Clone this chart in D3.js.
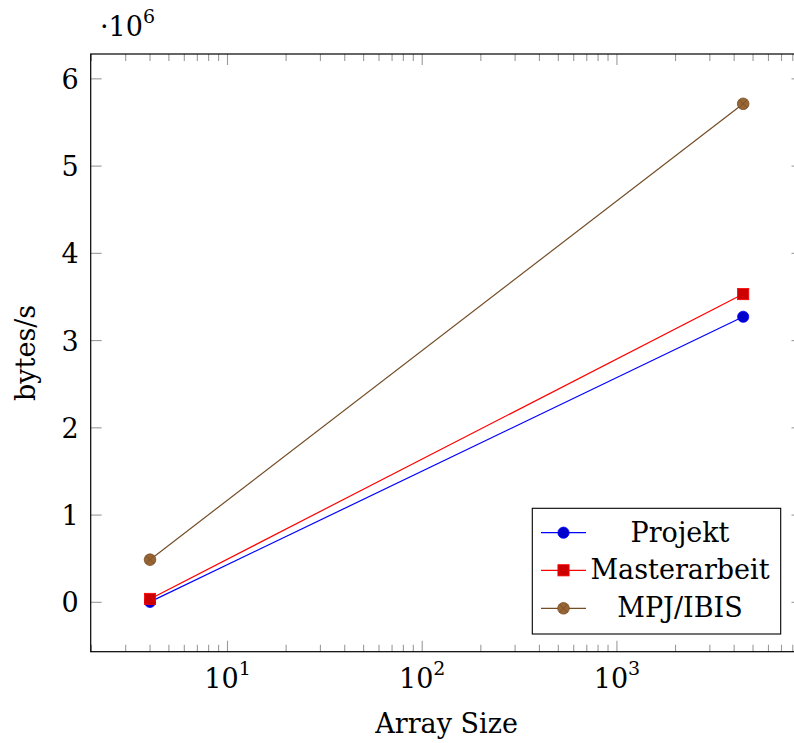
<!DOCTYPE html>
<html>
<head>
<meta charset="utf-8">
<script src="https://cdn.jsdelivr.net/npm/d3@7"></script>
<style>
  html, body { margin: 0; padding: 0; background: #fff; }
  svg { display: block; overflow: hidden; }
</style>
</head>
<body>
<svg id="chart" width="794" height="743"></svg>
<script>
// ---- data ----
const arraySizes = [4, 4450];
const seriesNames = ["Projekt", "Masterarbeit", "MPJ/IBIS"];
const projekt = [0.005e6, 3.273e6];
const masterarbeit = [0.039e6, 3.533e6];
const mpjIbis = [0.489e6, 5.714e6];
const yTicks = [0, 1, 2, 3, 4, 5, 6];
const xMajorTicks = [10, 100, 1000];
const xLabel = "Array Size";
const yLabel = "bytes/s";

// ---- layout ----
const W = 794, H = 743;
const plot = { left: 90.7, top: 54, right: 802.5, bottom: 651.7 };
const colors = ["#0000ff", "#ff0000", "#734d26"];
const fills = ["#0000cc", "#cc0000", "#996633"];
const FONT = 27;
const SUP = 19;
const FAMILY = "'DejaVu Serif', 'Liberation Serif', serif";

const svg = d3.select("#chart").attr("font-family", FAMILY);

// scales with 10% enlargement like pgfplots
const lx = arraySizes.map(Math.log10);
const lmin = d3.min(lx), lmax = d3.max(lx), lr = lmax - lmin;
const x = d3.scaleLog()
  .domain([Math.pow(10, lmin - 0.1 * lr), Math.pow(10, lmax + 0.1 * lr)])
  .range([plot.left, plot.right]);

const allY = projekt.concat(masterarbeit, mpjIbis);
const ymin = d3.min(allY), ymax = d3.max(allY), yr = ymax - ymin;
const y = d3.scaleLinear()
  .domain([ymin - 0.1 * yr, ymax + 0.1 * yr])
  .range([plot.bottom, plot.top]);

const series = [projekt, masterarbeit, mpjIbis].map((vals, i) => ({
  name: seriesNames[i],
  points: vals.map((v, j) => ({ x: arraySizes[j], y: v })),
  color: colors[i], fill: fills[i], mark: ["circle", "square", "otimes"][i]
}));

// ---- ticks ----
const tickG = svg.append("g").attr("stroke", "#9a9a9a").attr("stroke-width", 1.1);
const [d0, d1] = x.domain();
const minorTicks = [];
for (let e = Math.floor(Math.log10(d0)); e <= Math.ceil(Math.log10(d1)); e++) {
  for (let m = 2; m <= 9; m++) {
    const v = m * Math.pow(10, e);
    if (v > d0 && v < d1) minorTicks.push(v);
  }
}
minorTicks.forEach(v => {
  const px = x(v);
  tickG.append("line").attr("x1", px).attr("x2", px).attr("y1", plot.bottom).attr("y2", plot.bottom - 7);
  tickG.append("line").attr("x1", px).attr("x2", px).attr("y1", plot.top).attr("y2", plot.top + 7);
});
xMajorTicks.forEach(v => {
  const px = x(v);
  tickG.append("line").attr("x1", px).attr("x2", px).attr("y1", plot.bottom).attr("y2", plot.bottom - 11);
  tickG.append("line").attr("x1", px).attr("x2", px).attr("y1", plot.top).attr("y2", plot.top + 11);
});
yTicks.forEach(t => {
  const py = y(t * 1e6);
  tickG.append("line").attr("x1", plot.left).attr("x2", plot.left + 11).attr("y1", py).attr("y2", py);
  tickG.append("line").attr("x1", plot.right).attr("x2", plot.right - 11).attr("y1", py).attr("y2", py);
});

// ---- frame ----
svg.append("rect")
  .attr("x", plot.left).attr("y", plot.top)
  .attr("width", plot.right - plot.left).attr("height", plot.bottom - plot.top)
  .attr("fill", "none").attr("stroke", "#000").attr("stroke-width", 1.2);

// ---- tick labels ----
yTicks.forEach(t => {
  svg.append("text")
    .attr("x", plot.left - 12).attr("y", y(t * 1e6) + 10)
    .attr("text-anchor", "end").attr("font-size", FONT)
    .text(String(t));
});
xMajorTicks.forEach(v => {
  const t = svg.append("text")
    .attr("x", x(v)).attr("y", 688)
    .attr("text-anchor", "middle").attr("font-size", FONT);
  t.append("tspan").text("10");
  t.append("tspan").attr("dy", -13).attr("font-size", SUP).text(String(Math.round(Math.log10(v))));
});

// scale multiplier
const mult = svg.append("text").attr("x", 100).attr("y", 36).attr("font-size", FONT);
mult.append("tspan").text("·10");
mult.append("tspan").attr("dy", -13).attr("font-size", SUP).text("6");

// axis labels
svg.append("text")
  .attr("x", (plot.left + plot.right) / 2).attr("y", 732.5)
  .attr("text-anchor", "middle").attr("font-size", FONT).text(xLabel);
svg.append("text")
  .attr("transform", `translate(35,${(plot.top + plot.bottom) / 2}) rotate(-90)`)
  .attr("text-anchor", "middle").attr("font-size", FONT).text(yLabel);

// ---- marks ----
function drawMark(g, cx, cy, s) {
  if (s.mark === "circle") {
    g.append("circle").attr("cx", cx).attr("cy", cy).attr("r", 5.6)
      .attr("fill", s.fill).attr("stroke", s.color).attr("stroke-width", 0.8);
  } else if (s.mark === "square") {
    g.append("rect").attr("x", cx - 5.6).attr("y", cy - 5.6).attr("width", 11.2).attr("height", 11.2)
      .attr("fill", s.fill).attr("stroke", s.color).attr("stroke-width", 0.8);
  } else {
    g.append("circle").attr("cx", cx).attr("cy", cy).attr("r", 5.8)
      .attr("fill", s.fill).attr("stroke", s.color).attr("stroke-width", 0.8);
    const d = 5.8 * Math.SQRT1_2;
    g.append("path")
      .attr("d", `M${cx - d},${cy - d}L${cx + d},${cy + d}M${cx - d},${cy + d}L${cx + d},${cy - d}`)
      .attr("stroke", s.color).attr("stroke-width", 0.8).attr("fill", "none");
  }
}

const line = d3.line().x(d => x(d.x)).y(d => y(d.y));
const plotG = svg.append("g");
series.forEach(s => {
  plotG.append("path").attr("d", line(s.points))
    .attr("fill", "none").attr("stroke", s.color).attr("stroke-width", 1.2);
});
series.forEach(s => {
  s.points.forEach(p => drawMark(plotG, x(p.x), y(p.y), s));
});

// ---- legend ----
const lg = { left: 532.3, top: 508.3, right: 780.7, bottom: 634 };
const legend = svg.append("g");
legend.append("rect")
  .attr("x", lg.left).attr("y", lg.top)
  .attr("width", lg.right - lg.left).attr("height", lg.bottom - lg.top)
  .attr("fill", "#fff").attr("stroke", "#000").attr("stroke-width", 1.1);
const rowY = [532.7, 570.3, 608.3];
series.forEach((s, i) => {
  const cy = rowY[i];
  legend.append("line").attr("x1", 541).attr("x2", 586).attr("y1", cy).attr("y2", cy)
    .attr("stroke", s.color).attr("stroke-width", 1.2);
  drawMark(legend, 563.5, cy, s);
  legend.append("text").attr("x", 680).attr("y", cy + 9)
    .attr("text-anchor", "middle").attr("font-size", FONT).text(s.name);
});
</script>
</body>
</html>
